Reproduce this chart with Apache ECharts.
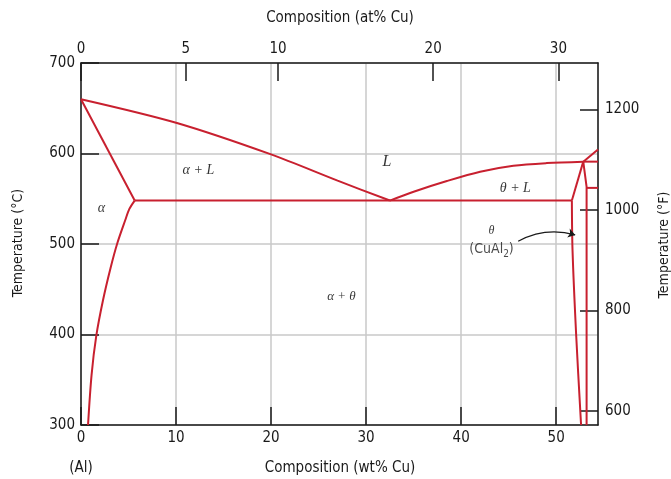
<!DOCTYPE html>
<html>
<head>
<meta charset="utf-8">
<script src="https://cdn.jsdelivr.net/npm/echarts@6/dist/echarts.min.js"></script>
<style>
html,body{margin:0;padding:0;background:#fff;}
#chart{width:671px;height:479px;}
</style>
</head>
<body>
<div id="chart"></div>
<script>
// ---- data (wt% Cu, temperature °C) ----
const wtTicks = [0, 10, 20, 30, 40, 50];
const atTicks = [0, 5, 10, 20, 30];
const cTicks = [300, 400, 500, 600, 700];
const fTicks = [600, 800, 1000, 1200];

const liquidusAl = [[0, 660], [10, 634], [20, 599], [27, 570], [32.5, 548]];
const solidusAl = [[0, 660], [5.65, 548]];
const solvusAl = [[5.65, 548], [5.09, 538.8], [4.66, 526.5], [3.82, 500.8], [3.11, 473.5], [2.32, 438.1], [1.61, 398.7], [1.11, 355.2], [0.74, 300]];
const eutectic = [[5.65, 548], [51.65, 548]];
const liquidusCu = [[32.5, 548], [35, 557.8], [38.5, 569.6], [42, 579.9], [45.5, 586.5], [49, 589.4], [52.85, 591]];
const thetaSolidus = [[51.65, 548], [52.85, 591]];
const thetaLeft = [[51.65, 548], [51.72, 493], [52.1, 400], [52.62, 300]];
const thetaRight = [[52.85, 591], [53.2, 563], [53.2, 300]];
const liquidusHigh = [[52.85, 591], [54.4, 604.5]];
const peritectic = [[52.85, 591], [54.4, 591]];
const stub = [[53.2, 562], [54.4, 562]];

const regionLabels = [
  {text: 'α + L', pos: [12.35, 581], size: 14},
  {text: 'L', pos: [32.2, 590.5], size: 16},
  {text: 'θ + L', pos: [45.7, 561.6], size: 14},
  {text: 'α', pos: [2.14, 539.4], size: 14},
  {text: 'α + θ', pos: [27.4, 441.8], size: 13},
  {text: 'θ', pos: [43.2, 514.5], size: 12}
];
const formulaLabel = {text: '{a|(CuAl}{b|2}{a|)}', pos: [43.2, 494.1]};
const arrowCoords = [[46.0, 503.0], [52.0, 510]];

const X_MAX = 54.4;
const C_MIN = 300, C_MAX = 700;

function atToWt(a) { const cu = a * 63.546, al = (100 - a) * 26.982; return 100 * cu / (cu + al); }
function cToF(c) { return c * 9 / 5 + 32; }
const atPos = atTicks.map(atToWt);

const RED = '#c8202f';
const INK = '#1a1a1a';
const FONT = "'DejaVu Sans Condensed','Liberation Sans',sans-serif";
const SERIF = "'Liberation Serif','DejaVu Serif',serif";

function phase(name, data, smooth) {
  return {
    name: name, type: 'line', data: data, showSymbol: false, symbol: 'none',
    smooth: smooth || false,
    lineStyle: {color: RED, width: 2}, silent: true, z: 5
  };
}

const chart = echarts.init(document.getElementById('chart'), null, {renderer: 'canvas'});

const axisLine = {show: true, onZero: false, lineStyle: {color: INK, width: 1.5}};
const tick = {show: true, inside: true, length: 18, lineStyle: {color: INK, width: 1.5}};
const lbl = {color: INK, fontFamily: FONT, fontSize: 15};
const plain = function (v) { return String(v); };

const option = {
  animation: false,
  grid: {left: 81, right: 73, top: 63, bottom: 54, containLabel: false},
  xAxis: [
    {
      type: 'value', position: 'bottom', min: 0, max: X_MAX, interval: 10,
      axisLine: axisLine, axisTick: tick,
      axisLabel: Object.assign({margin: 6, showMaxLabel: false, formatter: plain}, lbl),
      splitLine: {show: true, lineStyle: {color: '#c8c8c8', width: 1.5}}
    },
    {
      type: 'value', position: 'top', min: 0, max: X_MAX,
      axisLine: axisLine,
      axisTick: Object.assign({customValues: atPos}, tick),
      axisLabel: Object.assign({
        margin: 6, customValues: atPos,
        formatter: function (v) {
          let best = 0, d = 1e9;
          atPos.forEach(function (p, i) { if (Math.abs(p - v) < d) { d = Math.abs(p - v); best = i; } });
          return String(atTicks[best]);
        }
      }, lbl),
      splitLine: {show: false}
    }
  ],
  yAxis: [
    {
      type: 'value', position: 'left', min: C_MIN, max: C_MAX, interval: 100,
      axisLine: axisLine, axisTick: tick,
      axisLabel: Object.assign({margin: 6, formatter: plain}, lbl),
      splitLine: {show: true, lineStyle: {color: '#c8c8c8', width: 1.5}}
    },
    {
      type: 'value', position: 'right', min: cToF(C_MIN), max: cToF(C_MAX),
      axisLine: axisLine,
      axisTick: Object.assign({customValues: fTicks}, tick),
      axisLabel: Object.assign({margin: 7, customValues: fTicks, formatter: plain}, lbl),
      splitLine: {show: false}
    }
  ],
  series: [
    phase('liquidusAl', liquidusAl, 0.3),
    phase('solidusAl', solidusAl, false),
    phase('solvusAl', solvusAl, 0.3),
    phase('eutectic', eutectic, false),
    phase('liquidusCu', liquidusCu, 0.3),
    phase('thetaSolidus', thetaSolidus, false),
    phase('thetaLeft', thetaLeft, 0.3),
    phase('thetaRight', thetaRight, false),
    phase('liquidusHigh', liquidusHigh, false),
    phase('peritectic', peritectic, false),
    phase('stub', stub, false),
    {
      type: 'scatter', symbolSize: 0, silent: true, z: 6,
      data: regionLabels.map(function (r) { return {value: r.pos, label: {fontSize: r.size}, name: r.text}; }),
      label: {show: true, position: 'inside', formatter: function (p) { return p.name; },
        color: '#000', fontFamily: SERIF, fontStyle: 'italic'}
    },
    {
      type: 'scatter', symbolSize: 0, silent: true, z: 6,
      data: [{value: formulaLabel.pos, name: 'formula'}],
      label: {show: true, position: 'inside', formatter: formulaLabel.text,
        rich: {
          a: {color: INK, fontFamily: FONT, fontSize: 14, lineHeight: 20, verticalAlign: 'middle'},
          b: {color: INK, fontFamily: FONT, fontSize: 10, lineHeight: 20, verticalAlign: 'bottom'}
        }}
    },
    {
      type: 'lines', coordinateSystem: 'cartesian2d', silent: true, z: 6,
      symbol: ['none', 'arrow'], symbolSize: 7,
      lineStyle: {color: INK, width: 1.2, curveness: 0.2, opacity: 1},
      data: [{coords: arrowCoords}]
    }
  ],
  graphic: [
    {type: 'text', x: 340, y: 18, style: {text: 'Composition (at% Cu)', fill: INK, font: "15px " + FONT, textAlign: 'center', textVerticalAlign: 'middle'}},
    {type: 'text', x: 340, y: 468, style: {text: 'Composition (wt% Cu)', fill: INK, font: "15px " + FONT, textAlign: 'center', textVerticalAlign: 'middle'}},
    {type: 'text', x: 81, y: 468, style: {text: '(Al)', fill: INK, font: "15px " + FONT, textAlign: 'center', textVerticalAlign: 'middle'}},
    {type: 'text', x: 18, y: 243, rotation: Math.PI / 2, style: {text: 'Temperature (°C)', fill: INK, font: "14px " + FONT, textAlign: 'center', textVerticalAlign: 'middle'}},
    {type: 'text', x: 664, y: 245, rotation: Math.PI / 2, style: {text: 'Temperature (°F)', fill: INK, font: "14px " + FONT, textAlign: 'center', textVerticalAlign: 'middle'}}
  ]
};
chart.setOption(option);
</script>
</body>
</html>
